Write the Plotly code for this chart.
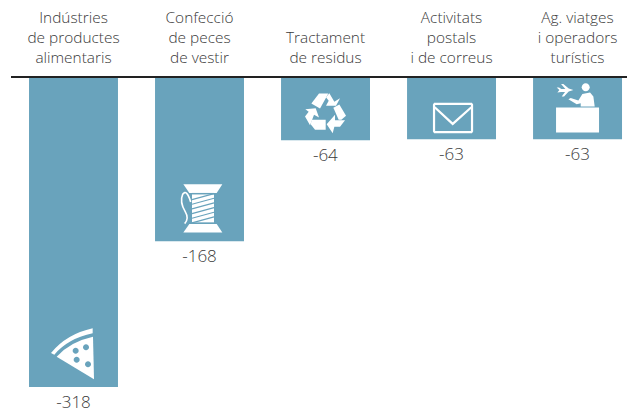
import plotly.graph_objects as go

labels = ['Indústries<br>de productes<br>alimentaris', 'Confecció<br>de peces<br>de vestir',
          'Tractament<br>de residus', 'Activitats<br>postals<br>i de correus',
          'Ag. viatges<br>i operadors<br>turístics']
values = [-318, -168, -64, -63, -63]

bar_color = '#69a3bc'
text_color = '#3a3a3a'
font_name = 'Open Sans'


# icons are traced on a 3x grid, origin = bottom centre of the bar they sit in
def to_px(pts, ox, oy):
    return ['%s,%s' % (round((x - ox) / 3, 2), round((oy - y) / 3, 2)) for x, y in pts]


def poly(pts, ox, oy):
    return 'M' + ' L'.join(to_px(pts, ox, oy)) + ' Z'


def line(pts, ox, oy):
    return 'M' + ' L'.join(to_px(pts, ox, oy))


def curve(pts, ox, oy):
    # pts: start, then control/end pairs
    p = to_px(pts, ox, oy)
    s = 'M' + p[0]
    for i in range(1, len(p), 2):
        s += ' Q' + p[i] + ' ' + p[i + 1]
    return s


def circle(cx, cy, r, ox, oy):
    # plotly paths have no arc command
    k = r * 0.5523
    p = to_px([(cx - r, cy),
               (cx - r, cy - k), (cx - k, cy - r), (cx, cy - r),
               (cx + k, cy - r), (cx + r, cy - k), (cx + r, cy),
               (cx + r, cy + k), (cx + k, cy + r), (cx, cy + r),
               (cx - k, cy + r), (cx - r, cy + k), (cx - r, cy)], ox, oy)
    s = 'M' + p[0]
    for i in range(1, len(p), 3):
        s += ' C' + p[i] + ' ' + p[i + 1] + ' ' + p[i + 2]
    return s + ' Z'


shapes = []


def add_fill(i, path, color='white'):
    shapes.append(dict(type='path', path=path, xref='x', yref='y', xsizemode='pixel', ysizemode='pixel',
                       xanchor=i, yanchor=values[i], fillcolor=color, line=dict(width=0)))


def add_stroke(i, path, width, color='white'):
    shapes.append(dict(type='path', path=path, xref='x', yref='y', xsizemode='pixel', ysizemode='pixel',
                       xanchor=i, yanchor=values[i], line=dict(color=color, width=width)))


# pizza
o = (160.5, 231)
p = to_px([(93, 129), (140, 72), (218, 55), (218, 70), (145, 85), (103, 134)], *o)
add_fill(0, 'M%s Q%s %s L%s Q%s %s Z' % tuple(p))
p = to_px([(110, 140), (150, 95), (219, 80), (222, 208)], *o)
add_fill(0, 'M%s Q%s %s L%s Z' % tuple(p))
for cx, cy in [(167, 122), (198, 112), (170, 149), (204, 163)]:
    add_fill(0, circle(cx, cy, 9, *o), bar_color)

# spool
o = (148.5, 213)
add_fill(1, poly([(100, 42), (217, 42), (200, 68), (118, 68)], *o))
add_fill(1, poly([(100, 187), (217, 187), (200, 161), (118, 161)], *o))
add_fill(1, poly([(126, 72), (192, 72), (192, 157), (126, 157)], *o))
for yy in [88, 102, 116, 130, 144, 158]:
    add_stroke(1, line([(126, yy), (192, yy - 18)], *o), 1.2, bar_color)
add_fill(1, poly([(126, 68), (192, 68), (192, 72), (126, 72)], *o), bar_color)
add_fill(1, poly([(126, 157), (192, 157), (192, 161), (126, 161)], *o), bar_color)
add_stroke(1, curve([(122, 95), (110, 55), (98, 72), (88, 95), (106, 125), (118, 145), (104, 160)], *o), 1.6)

# recycling
o = (166.5, 213)
add_fill(2, poly([(147, 73), (175, 73), (150, 118), (124, 103)], *o))
add_fill(2, poly([(178, 72), (193, 98), (210, 87), (198, 110), (168, 110), (176, 95), (168, 84)], *o))
add_fill(2, poly([(190, 116), (208, 106), (228, 140), (214, 152), (206, 152)], *o))
add_fill(2, poly([(225, 153), (195, 153), (195, 137), (170, 165), (188, 192), (193, 173), (210, 173)], *o))
add_fill(2, poly([(125, 152), (167, 152), (167, 182), (135, 182), (122, 165)], *o))
add_fill(2, poly([(106, 120), (137, 117), (147, 145), (132, 137), (120, 168), (105, 142), (116, 128)], *o))

# envelope
o = (544.5, 208)
add_stroke(3, poly([(494, 102), (604, 102), (606, 105), (606, 184), (604, 187), (494, 187), (492, 184), (492, 105)], *o), 2.2)
add_stroke(3, line([(494, 112), (548, 162), (604, 112)], *o), 2.2)

# travel desk
o = (922.5, 208)
add_fill(4, poly([(858, 113), (987, 113), (987, 188), (858, 188)], *o))
add_fill(4, circle(947, 52, 12, *o))
add_fill(4, poly([(895, 88), (902, 84), (925, 92), (937, 72), (960, 68), (970, 80), (974, 110), (932, 110), (932, 100), (920, 103)], *o))
add_fill(4, poly([(860, 53), (867, 53), (874, 57), (886, 57), (873, 42), (880, 42), (896, 56), (910, 60), (896, 65), (882, 80), (875, 80), (885, 66), (873, 66), (862, 68), (868, 60)], *o))

fig = go.Figure(go.Bar(
    x=list(range(len(values))),
    y=values,
    width=0.706,
    marker=dict(color=bar_color, line=dict(width=0)),
    text=[str(v) for v in values],
    textposition='outside',
    textfont=dict(family=font_name, size=17, weight=300, color=text_color),
    cliponaxis=False,
))

# page body has an 8px margin, so the figure is 8px smaller than the window
fig.update_layout(
    width=627, height=404,
    margin=dict(l=3, r=0, t=70, b=0, autoexpand=False),
    paper_bgcolor='white', plot_bgcolor='white',
    showlegend=False,
    shapes=shapes,
    xaxis=dict(side='top', tickmode='array', tickvals=list(range(len(values))), ticktext=labels,
               range=[-0.496, 4.456], showgrid=False, zeroline=False, ticks='', ticklabelstandoff=7,
               automargin=False,
               showline=True, linecolor='#222222', linewidth=1.5, layer='below traces',
               tickfont=dict(family=font_name, size=15.4, weight=300, color=text_color)),
    yaxis=dict(visible=False, range=[-343.7, 0]),
)

fig.write_html('out.html')
